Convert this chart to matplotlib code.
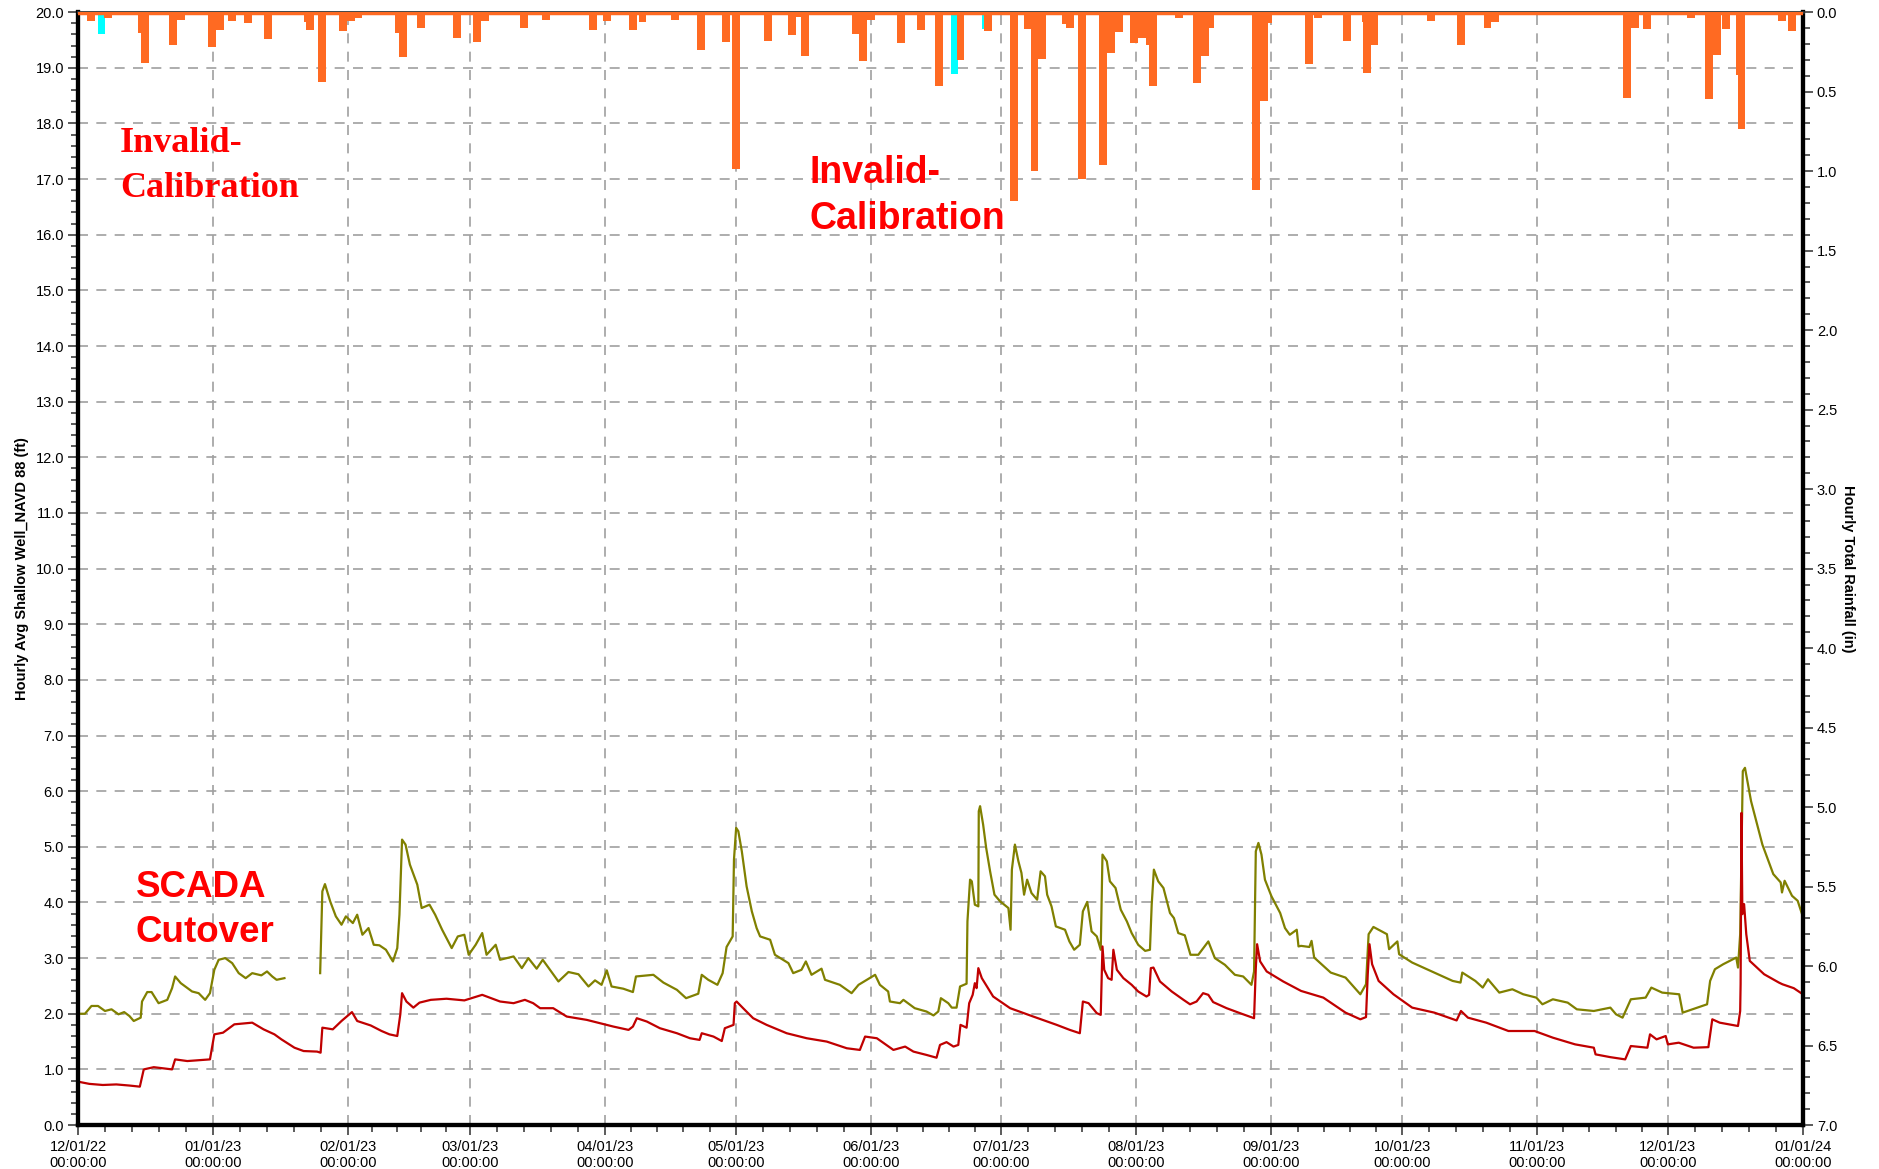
import numpy as np
import pandas as pd
import matplotlib
matplotlib.use("Agg")
import matplotlib.pyplot as plt
import matplotlib.dates as mdates

plt.rcParams['font.family'] = ['Liberation Sans', 'DejaVu Sans']

# days since 12/01/22 00:00
START = pd.Timestamp("2022-12-01")

well_day = [0.1, 1.6, 3.1, 4.6, 6.2, 7.7, 9.3, 10.6, 11.8, 12.8, 14.4, 14.7, 15.9, 16.9, 18.5, 20.5,
            21.6, 22.3, 23.6, 26.2, 27.7, 29.2, 30.3, 31.3, 32.3, 33.8, 35.4, 36.9, 38.5, 40, 42.1,
            43.4, 44.6, 45.6, 47.4, 47.5, 55.6, 56.1, 56.7, 57.9, 59.2, 60.5, 61.5, 63.1, 64.1, 65.3,
            66.7, 67.9, 69.2, 70.7, 72.3, 73.3, 73.8, 74.4, 75.2, 76.2, 77.9, 78.9, 80.7, 82, 83.6,
            85.8, 87.2, 88.7, 89.7, 91.3, 92.8, 93.8, 95.9, 96.9, 100, 101.9, 103.4, 105.3, 106.7,
            110.3, 112.6, 114.9, 117.2, 118.7, 120.2, 121.4, 122.5, 125.2, 127.4, 128.1, 132.1, 134.4,
            137.5, 139.6, 142.4, 143.2, 144.7, 146.8, 148, 148.9, 150.3, 150.6, 151.1, 151.6, 152.4,
            153.5, 154.7, 155.8, 156.6, 158.9, 160, 163.1, 164.2, 166.1, 167.1, 168.4, 170.7, 171.5,
            173.8, 174.9, 177.6, 179.2, 181.1, 183, 184.1, 186, 186.4, 188.7, 189.5, 192.1, 194.8,
            196.4, 197.5, 198.1, 199.8, 200.6, 201.7, 202.5, 204, 204.2, 204.8, 205.2, 205.9, 206.7,
            206.8, 207.1, 207.8, 208.5, 209.4, 210.4, 211.7, 213.6, 214.1, 214.4, 215.1, 215.9, 216.6,
            217.2, 217.9, 218.9, 220.2, 221, 222, 222.5, 223.5, 224.5, 226.6, 227.6, 228.7, 230,
            230.7, 231.7, 232.7, 233.9, 234.8, 235.2, 236.2, 236.9, 238.2, 239.4, 240.8, 241.9, 243.4,
            245, 246.1, 246.5, 247, 248, 249.2, 250.7, 251.6, 252.6, 254.1, 255.4, 257.2, 259.5, 261,
            263.3, 265.6, 267.5, 269.4, 270, 270.4, 271, 271.7, 272.5, 274, 276, 277.1, 278.2, 279.8,
            280.2, 280.8, 282.7, 283.2, 283.8, 287.6, 291, 294.4, 295.7, 296.3, 297.4, 300.5, 301,
            302.9, 303.3, 306.3, 309.7, 313.1, 315.6, 317.4, 317.8, 320.8, 322.5, 323.7, 326.3, 329.3,
            331.8, 334.8, 336.2, 338.6, 342, 344.1, 348, 351.8, 353.1, 354.6, 356.5, 359.9, 361.2,
            363.7, 367.6, 368.4, 371.8, 374, 374.7, 375.8, 377.7, 380.7, 381.1, 381.6, 382.2, 382.7,
            384.1, 386.7, 389.2, 390.9, 391.2, 391.8, 393.5, 394.8, 395.8]
well_ft = [2.0, 2.0, 2.14, 2.14, 2.05, 2.08, 1.99, 2.03, 1.96, 1.87, 1.93, 2.22, 2.39, 2.39, 2.19, 2.25,
           2.46, 2.67, 2.55, 2.4, 2.37, 2.25, 2.37, 2.79, 2.97, 3.0, 2.91, 2.73, 2.64, 2.73, 2.69,
           2.76, 2.67, 2.61, 2.64, np.nan, 2.73, 4.2, 4.33, 4.02, 3.75, 3.6, 3.75, 3.63, 3.78, 3.42,
           3.54, 3.24, 3.23, 3.15, 2.94, 3.18, 3.78, 5.13, 5.04, 4.68, 4.32, 3.9, 3.96, 3.78, 3.51,
           3.18, 3.39, 3.42, 3.06, 3.24, 3.45, 3.06, 3.24, 2.97, 3.03, 2.82, 3.0, 2.81, 2.97,
           2.58, 2.75, 2.71, 2.49, 2.6, 2.52, 2.78, 2.49, 2.45, 2.39, 2.67, 2.7, 2.56,
           2.43, 2.28, 2.36, 2.7, 2.61, 2.52, 2.73, 3.2, 3.39, 4.77, 5.34, 5.28, 4.92,
           4.29, 3.84, 3.54, 3.39, 3.33, 3.06, 2.91, 2.73, 2.79, 2.94, 2.7, 2.81, 2.61,
           2.55, 2.52, 2.37, 2.52, 2.61, 2.7, 2.52, 2.4, 2.22, 2.19, 2.25, 2.1, 2.04,
           1.97, 2.04, 2.28, 2.19, 2.11, 2.11, 2.49, 2.54, 3.66, 4.41, 4.38, 3.96, 3.93,
           5.64, 5.73, 5.4, 4.98, 4.56, 4.14, 4.02, 3.9, 3.51, 4.59, 5.04, 4.74, 4.53,
           4.14, 4.41, 4.17, 4.05, 4.56, 4.47, 4.14, 3.93, 3.57, 3.51, 3.3, 3.15, 3.24,
           3.84, 4.01, 3.48, 3.39, 3.15, 4.86, 4.74, 4.38, 4.26, 3.87, 3.66, 3.45, 3.24,
           3.13, 3.15, 3.96, 4.59, 4.38, 4.26, 3.81, 3.72, 3.45, 3.41, 3.06, 3.06, 3.3, 3.0,
           2.88, 2.7, 2.67, 2.52, 2.76, 4.92, 5.07, 4.86, 4.41, 4.11, 3.81, 3.54, 3.42, 3.51,
           3.21, 3.22, 3.2, 3.31, 3.01, 2.74, 2.65, 2.35, 2.53, 3.43, 3.56, 3.43, 3.16,
           3.3, 3.07, 2.92, 2.8, 2.68, 2.59, 2.56, 2.74, 2.59, 2.47, 2.62, 2.38, 2.44,
           2.35, 2.29, 2.17, 2.26, 2.2, 2.08, 2.05, 2.11, 1.99, 1.93, 2.26, 2.29, 2.47,
           2.38, 2.35, 2.02, 2.11, 2.17, 2.59, 2.8, 2.89, 3.01, 2.83, 3.43, 6.36, 6.42,
           5.82, 5.04, 4.51, 4.36, 4.18, 4.39, 4.12, 4.03, 3.79]

deep_day = [0, 2.6, 5.7, 8.8, 11.8, 14.2, 15.1, 17.4, 21.6, 22.3, 25.1, 30.3, 31.3, 33.3, 35.9, 40,
            42.6, 45.1, 46.7, 49.7, 51.8, 54.9, 55.7, 56.1, 58.5, 60.5, 62.9, 64.1, 67.2, 69.7, 71.5,
            73.3, 74, 74.4, 75.4, 77, 78.4, 81, 84.6, 88.7, 92.8, 96.9, 100, 102.6, 104.5, 106.1,
            109.1, 112.2, 116.8, 119.9, 122.9, 126.4, 127.4, 128.3, 130.6, 133.6, 137.5, 140.5, 142.7,
            143.2, 145.9, 147.8, 148.5, 150.5, 150.8, 151.2, 152.7, 155, 158.1, 162.7, 167.3, 171.9,
            176.5, 179.5, 180.7, 183.4, 187.2, 189.9, 191.8, 194.8, 197.1, 197.9, 199.4, 201, 202.1,
            202.6, 204, 204.6, 205.4, 205.9, 206.3, 206.7, 207.5, 209.4, 210.1, 214, 219.3, 224.7,
            227.7, 230, 230.7, 232, 233.9, 234.8, 235.2, 235.6, 236.5, 237.3, 237.7, 238.5, 240,
            241.9, 243.4, 245.3, 245.9, 246.3, 246.9, 248.4, 251.1, 253.8, 255.3, 256.8, 258.3,
            259.5, 260.6, 263.7, 266.8, 270, 270.4, 270.7, 271.4, 272.9, 276.7, 280.8, 285.9, 291,
            294.4, 295.7, 296.1, 296.5, 297.1, 298.6, 302, 306.3, 311.4, 316.5, 317.5, 319.1, 323.3,
            328.4, 334.4, 338.6, 343.7, 348, 348.4, 351.8, 355.2, 356.5, 360.3, 360.9, 362.4, 364.5,
            365, 367.5, 370.9, 374.3, 375.2, 376.9, 381.1, 381.6, 381.7, 381.9, 382.1, 382.5, 383,
            383.8, 387.1, 390.5, 391.3, 393.9, 395.8]
deep_ft = [0.78, 0.74, 0.72, 0.73, 0.71, 0.69, 1.0, 1.04, 1.0, 1.18, 1.15, 1.18, 1.63, 1.66, 1.81, 1.84,
           1.72, 1.63, 1.54, 1.39, 1.33, 1.32, 1.30, 1.75, 1.72, 1.87, 2.03, 1.87, 1.79, 1.69, 1.63,
           1.6, 1.99, 2.37, 2.22, 2.11, 2.2, 2.25, 2.27, 2.24, 2.34, 2.22, 2.19, 2.25, 2.19, 2.1,
           2.1, 1.95, 1.89, 1.83, 1.77, 1.71, 1.77, 1.92, 1.86, 1.74, 1.65, 1.56, 1.53,
           1.65, 1.59, 1.51, 1.74, 1.8, 2.19, 2.22, 2.1, 1.92, 1.8, 1.65, 1.56, 1.5,
           1.38, 1.35, 1.59, 1.56, 1.35, 1.41, 1.32, 1.26, 1.21, 1.44, 1.49, 1.41, 1.44,
           1.8, 1.75, 2.19, 2.34, 2.55, 2.46, 2.82, 2.64, 2.4, 2.31, 2.1, 1.95, 1.8,
           1.71, 1.65, 2.22, 2.19, 2.01, 1.98, 3.21, 2.79, 2.64, 2.61, 3.15, 2.79, 2.64,
           2.52, 2.4, 2.31, 2.34, 2.82, 2.83, 2.58, 2.4, 2.25, 2.17, 2.22, 2.37,
           2.34, 2.21, 2.1, 2.01, 1.92, 2.82, 3.25, 2.94, 2.76, 2.58, 2.41, 2.29, 2.02,
           1.9, 1.94, 2.71, 3.25, 2.89, 2.59, 2.35, 2.11, 2.02, 1.88, 2.05, 1.93, 1.84,
           1.69, 1.69, 1.57, 1.45, 1.39, 1.27, 1.22, 1.18, 1.42, 1.39, 1.63, 1.54, 1.6,
           1.45, 1.48, 1.39, 1.4, 1.9, 1.84, 1.78, 2.05, 2.53, 5.61, 3.79, 3.97, 3.43,
           2.95, 2.71, 2.56, 2.53, 2.46, 2.36]

# hourly rainfall bars (left edge in days, depth in inches)
rain_day = [2.0, 6.0, 13.7, 14.5, 20.9, 22.7, 29.9, 31.7, 34.4, 38.2, 41.9, 42.8, 47.3, 52.0, 52.3,
            55.1, 60.0, 61.8, 63.5, 66.7, 72.8, 73.8, 77.8, 86.1, 90.8, 92.6, 99.4, 101.5, 106.6,
            116.0, 117.3, 120.5, 126.6, 128.7, 136.1, 142.2, 146.3, 147.9, 150.1, 153.3, 157.5,
            163.1, 164.9, 166.1, 169.5, 177.8, 179.3, 181.1, 182.0, 188.0, 192.6, 196.7, 201.7,
            208.0, 214.0, 217.2, 218.7, 220.5, 226.0, 226.9, 229.6, 234.4, 236.2, 238.0, 241.6,
            243.4, 245.1, 245.9, 251.9, 256.0, 257.8, 258.9, 269.6, 271.4, 272.3, 281.8, 283.8,
            285.1, 290.4, 294.7, 295.1, 296.7, 298.5, 299.4, 309.7, 316.7, 322.7, 324.5, 333.9,
            354.8, 356.5, 359.3, 365.2, 367.4, 369.4, 373.5, 375.3, 377.4, 380.6, 381.0, 389.4,
            390.3, 392.6]
rain_in = [0.055, 0.035, 0.128, 0.32, 0.205, 0.05, 0.22, 0.11, 0.055, 0.07, 0.015, 0.17, 0.015, 0.065, 0.11,
           0.44, 0.12, 0.055, 0.035, 0.01, 0.128, 0.28, 0.1, 0.16, 0.185, 0.055, 0.015, 0.1, 0.05,
           0.015, 0.11, 0.055, 0.11, 0.06, 0.05, 0.24, 0.015, 0.19, 0.985, 0.015, 0.18,
           0.145, 0.03, 0.275, 0.015, 0.136, 0.31, 0.05, 0.02, 0.195, 0.11, 0.465, 0.30,
           0.12, 1.19, 0.105, 1.0, 0.295, 0.075, 0.1, 1.05, 0.96, 0.26, 0.125, 0.195,
           0.16, 0.205, 0.465, 0.035, 0.445, 0.275, 0.1, 1.12, 0.56, 0.07, 0.325, 0.035,
           0.015, 0.18, 0.06, 0.385, 0.205, 0.015, 0.015, 0.055, 0.205, 0.1, 0.06, 0.02,
           0.54, 0.1, 0.105, 0.015, 0.015, 0.035, 0.545, 0.27, 0.105, 0.395, 0.735, 0.015,
           0.055, 0.12]

# invalid-calibration rainfall
bad_day = [4.5, 200.4, 207.6]
bad_in = [0.136, 0.39, 0.105]
bad_w = [1.6, 1.6, 0.4]

months = pd.date_range("2022-12-01", "2024-01-01", freq="MS")

ORANGE = "#ff6a22"
OLIVE = "#808000"
RED = "#c00000"


def to_num(days):
    return mdates.date2num(START + pd.to_timedelta(np.asarray(days, dtype=float), unit="D"))


fig = plt.figure(figsize=(18.79, 11.69), dpi=100)
ax = fig.add_axes([0.0415, 0.0376, 0.918, 0.952])

ax.plot(to_num(well_day), well_ft, color=OLIVE, lw=1.6, zorder=3)
ax.plot(to_num(deep_day), deep_ft, color=RED, lw=1.6, zorder=3)

ax.set_xlim(mdates.date2num(months[0]), mdates.date2num(months[-1]))
ax.set_ylim(0, 20)
ax.set_yticks(np.arange(0, 20.01, 1.0))
ax.set_yticks(np.arange(0, 20.01, 0.2), minor=True)
ax.yaxis.set_major_formatter(matplotlib.ticker.FormatStrFormatter('%.1f'))

ax.xaxis.set_major_locator(mdates.MonthLocator())
ax.xaxis.set_major_formatter(mdates.DateFormatter('%m/%d/%y\n%H:%M:%S'))
minor = []
for a, b in zip(months[:-1], months[1:]):
    for k in range(1, 5):
        minor.append(mdates.date2num(a + (b - a) * k / 5))
ax.set_xticks(minor, minor=True)

ax.grid(True, which='major', color='#a0a0a0', linestyle=(0, (6, 5)), lw=1.2)
ax.tick_params(axis='both', which='major', labelsize=10.5, length=7, width=1.2, color='#404040')
ax.tick_params(axis='both', which='minor', length=5, width=1.2, color='#404040')
ax.tick_params(axis='y', pad=3)
ax.set_ylabel("Hourly Avg Shallow Well_NAVD 88 (ft)", fontsize=10.5, fontweight='bold', labelpad=5)

# rainfall on the inverted right axis
ax2 = ax.twinx()
ax2.bar(to_num(bad_day), bad_in, width=bad_w, align='edge', color='#00ffff', lw=0, zorder=2)
ax2.bar(to_num(rain_day), rain_in, width=1.8, align='edge', color=ORANGE, lw=0, zorder=3)
ax2.axhline(0.005, color=ORANGE, lw=2.5, zorder=3)
ax2.set_ylim(7, 0)
ax2.set_yticks(np.arange(0, 7.01, 0.5))
ax2.set_yticks(np.arange(0, 7.01, 0.1), minor=True)
ax2.yaxis.set_major_formatter(matplotlib.ticker.FormatStrFormatter('%.1f'))
ax2.tick_params(axis='y', which='major', labelsize=10.5, length=7, width=1.2, color='#404040', pad=3)
ax2.tick_params(axis='y', which='minor', length=5, width=1.2, color='#404040')
ax2.set_ylabel("Hourly Total Rainfall (in)", fontsize=10.5, fontweight='bold', rotation=270, labelpad=13)

for a in (ax, ax2):
    for s in ('left', 'right', 'bottom'):
        a.spines[s].set_color('black')
        a.spines[s].set_linewidth(3)
    a.spines['top'].set_color('#404040')
    a.spines['top'].set_linewidth(1.8)

# annotations
tr = ax.transAxes
ax.text(0.0243, 0.8742, "Invalid-", transform=tr, color='red', fontsize=26, fontweight='bold',
        family='Liberation Serif', va='baseline', zorder=5)
ax.text(0.0243, 0.8338, "Calibration", transform=tr, color='red', fontsize=26, fontweight='bold',
        family='Liberation Serif', va='baseline', zorder=5)
ax.text(0.4243, 0.8464, "Invalid-", transform=tr, color='red', fontsize=27, fontweight='bold',
        va='baseline', zorder=5)
ax.text(0.4243, 0.8050, "Calibration", transform=tr, color='red', fontsize=27, fontweight='bold',
        va='baseline', zorder=5)
ax.text(0.0336, 0.2049, "SCADA", transform=tr, color='red', fontsize=26.5, fontweight='bold',
        va='baseline', zorder=5)
ax.text(0.0336, 0.1644, "Cutover", transform=tr, color='red', fontsize=26.5, fontweight='bold',
        va='baseline', zorder=5)

fig.savefig("out.png", dpi=100)
